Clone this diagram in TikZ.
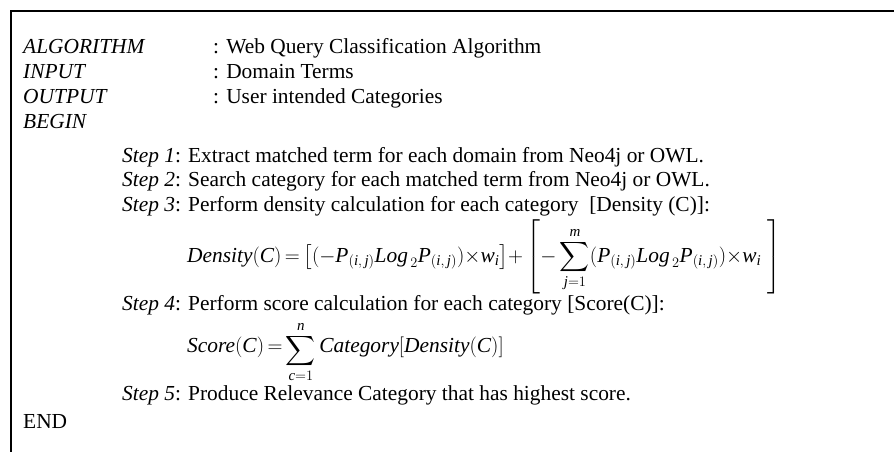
\documentclass[tikz,border=0pt]{standalone}
\usepackage{amsmath}
\usepackage{fontspec}
\setmainfont{Liberation Serif}
\usepackage{tikz}
\tikzset{
  line/.style = {anchor=base west, inner sep=0pt, font=\fontsize{21.4}{24.6}\selectfont},
  key/.style = {line, font=\fontsize{21.4}{24.6}\selectfont\itshape},
  frame/.style = {line width=2pt}
}
\newcommand{\stepno}[1]{\textit{Step #1}}
\newcommand{\iv}[1]{\textit{#1}}
\newcommand{\pij}{\iv{P}_{(\iv{i},\,\iv{j})}}
\newcommand{\logterm}{\pij\iv{Log}_{\,2}\pij}
\newcommand{\lowsum}{\mathop{\raisebox{-4pt}{$\displaystyle\sum$}}\limits}

\begin{document}
\begin{tikzpicture}[x=1pt, y=-1pt]

  \useasboundingbox (0,0) rectangle (894,452);
  \draw[frame] (11,452) -- (11,11.3) -- (894,11.3);

  \node[key] (algo) at (23,54) {ALGORITHM};
  \node[line] (algoval) at (213,54) {: Web Query Classification Algorithm};
  \node[key] (input) at (23,78.7) {INPUT};
  \node[line] (inputval) at (213,78.7) {: Domain Terms};
  \node[key] (output) at (23,103.3) {OUTPUT};
  \node[line] (outputval) at (213,103.3) {: User intended Categories};
  \node[key] (begin) at (23,128) {BEGIN};

  \node[line] (step1) at (122,162) {\stepno{1}: Extract matched term for each domain from Neo4j or OWL.};
  \node[line] (step2) at (122,186.5) {\stepno{2}: Search category for each matched term from Neo4j or OWL.};
  \node[line] (step3) at (122,211) {\stepno{3}: Perform density calculation for each category~ [Density (C)]:};

  \node[line] (density) at (187,262)
    {$\displaystyle \iv{Density}(\iv{C})\,{=}\,\bigl[(-\logterm){\times}\iv{w}_{\iv{i}}\bigr]{+}\left[-\sum_{\iv{j}=1}^{\iv{m}}(\logterm){\times}\iv{w}_{\iv{i}}\;\right]$};

  \node[line] (step4) at (122,310) {\stepno{4}: Perform score calculation for each category [Score(C)]:};

  \node[line] (score) at (187,352)
    {$\displaystyle \iv{Score}(\iv{C})\,{=}\lowsum_{\iv{c}=1}^{\iv{n}}\iv{Category}[\iv{Density}(\iv{C})]$};

  \node[line] (step5) at (122,400) {\stepno{5}: Produce Relevance Category that has highest score.};
  \node[line] (end) at (23,428) {END};
\end{tikzpicture}
\end{document}
